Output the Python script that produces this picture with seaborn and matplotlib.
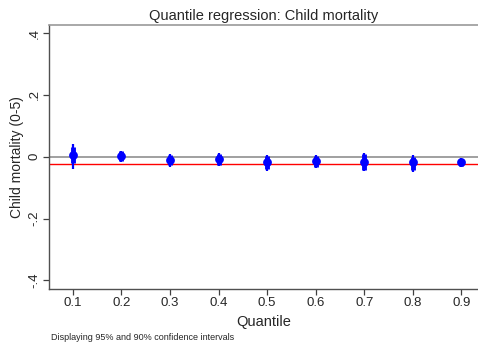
import numpy as np
import pandas as pd
import seaborn as sns
import matplotlib.pyplot as plt

quantiles = [0.1, 0.2, 0.3, 0.4, 0.5, 0.6, 0.7, 0.8, 0.9]
coef = [0.004, 0.003, -0.010, -0.007, -0.018, -0.013, -0.017, -0.018, -0.018]
ci95_lo = [-0.041, -0.016, -0.032, -0.031, -0.045, -0.037, -0.047, -0.050, -0.034]
ci95_hi = [0.041, 0.020, 0.008, 0.013, 0.006, 0.005, 0.013, 0.005, -0.005]
ci90_lo = [-0.022, -0.013, -0.028, -0.027, -0.040, -0.033, -0.042, -0.044, -0.031]
ci90_hi = [0.030, 0.017, 0.005, 0.010, 0.002, 0.002, 0.008, 0.000, -0.008]
ols_coef = -0.023
ytick_vals = [-0.4, -0.2, 0, 0.2, 0.4]
ytick_labels = ['-.4', '-.2', '0', '.2', '.4']

df = pd.DataFrame({'q': quantiles, 'coef': coef,
                   'lo95': ci95_lo, 'hi95': ci95_hi,
                   'lo90': ci90_lo, 'hi90': ci90_hi})

sns.set_style('white')
plt.rcParams['font.family'] = ['Liberation Sans', 'DejaVu Sans']

fig = plt.figure(figsize=(4.78, 3.45), dpi=100)
ax = fig.add_axes([0.1025, 0.1623, 0.8975, 0.7644])

# reference lines
ax.axhline(0, color='#a0a0a0', lw=1.4, zorder=1)
ax.axhline(ols_coef, color='red', lw=1.0, zorder=1)

# confidence intervals
ax.vlines(df['q'], df['lo95'], df['hi95'], color='blue', lw=1.6, zorder=2)
ax.vlines(df['q'], df['lo90'], df['hi90'], color='blue', lw=3.5, zorder=3)
sns.scatterplot(data=df, x='q', y='coef', ax=ax, color='blue', s=40,
                edgecolor='blue', linewidth=0, zorder=4)

ax.set_xlim(0.051, 0.934)
ax.set_ylim(-0.428, 0.425)
ax.set_xticks(quantiles)
ax.set_xticklabels([f'{q:.1f}' for q in quantiles], fontsize=9.5)
ax.set_yticks(ytick_vals)
ax.set_yticklabels(ytick_labels, fontsize=9.5, rotation=90, va='center')

ax.tick_params(axis='both', direction='out', length=4, width=0.9,
               color='#404040', left=True, bottom=True, pad=2)

ax.spines['right'].set_visible(False)
ax.spines['top'].set_color('#999999')
ax.spines['top'].set_linewidth(1.2)
for s in ['left', 'bottom']:
    ax.spines[s].set_color('#505050')
    ax.spines[s].set_linewidth(1.0)

ax.set_xlabel('Quantile', fontsize=10.5, labelpad=4)
ax.set_ylabel('Child mortality (0-5)', fontsize=10, labelpad=3)
ax.set_title('Quantile regression: Child mortality', fontsize=10.5, pad=4)

fig.text(0.107, 0.014, 'Displaying 95% and 90% confidence intervals', fontsize=6.5)

fig.savefig('out.png', dpi=100)
